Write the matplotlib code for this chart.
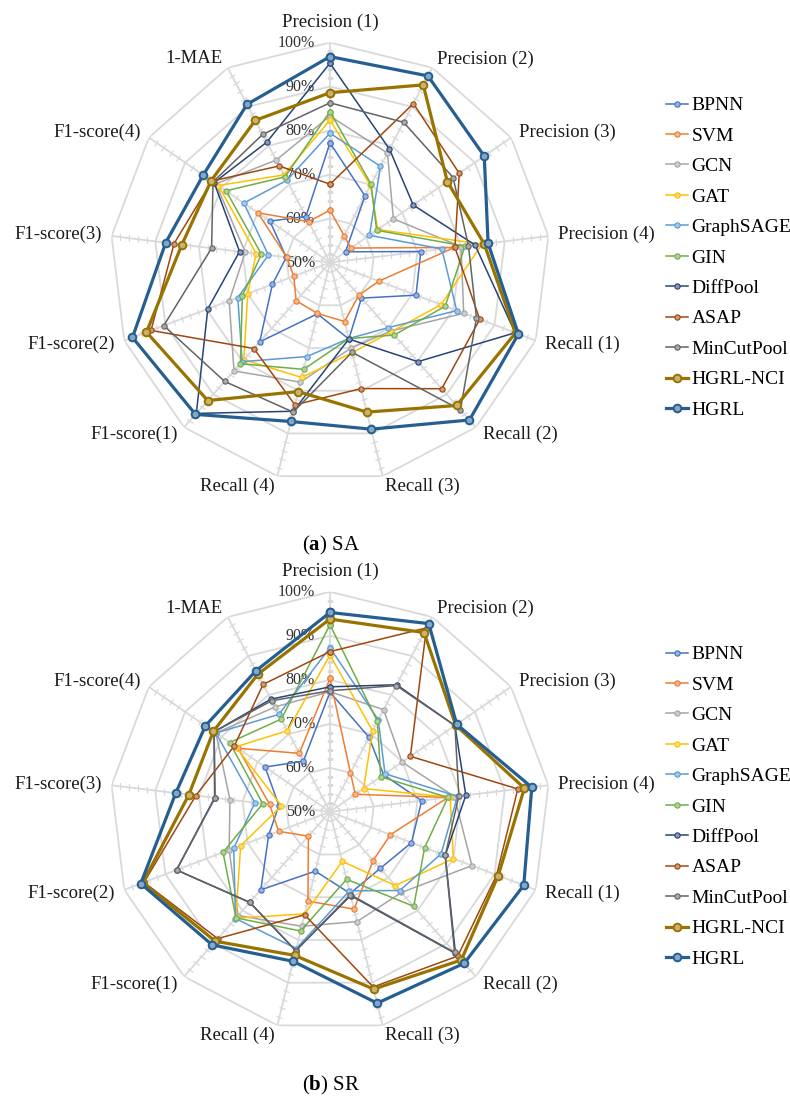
import numpy as np
import matplotlib
matplotlib.use("Agg")
import matplotlib.pyplot as plt
from matplotlib.markers import MarkerStyle
from matplotlib.transforms import Affine2D
from matplotlib.colors import to_rgb

plt.rcParams['font.family'] = ['Liberation Serif', 'DejaVu Serif']
plt.rcParams['mathtext.fontset'] = 'custom'
plt.rcParams['mathtext.rm'] = 'Liberation Serif'
plt.rcParams['mathtext.bf'] = 'Liberation Serif:bold'

metrics = ['Precision (1)', 'Precision (2)', 'Precision (3)', 'Precision (4)',
           'Recall (1)', 'Recall (2)', 'Recall (3)', 'Recall (4)',
           'F1-score(1)', 'F1-score(2)', 'F1-score(3)', 'F1-score(4)', '1-MAE']
models = ['BPNN', 'SVM', 'GCN', 'GAT', 'GraphSAGE', 'GIN', 'DiffPool',
          'ASAP', 'MinCutPool', 'HGRL-NCI', 'HGRL']
colors = ['#4472C4', '#ED7D31', '#A5A5A5', '#FFC000', '#5B9BD5', '#70AD47',
          '#264478', '#9E480E', '#636363', '#997300', '#255E91']
rings = [60, 70, 80, 90, 100]

# (a) SA
sa_bpnn = [77.2, 67.1, 54.3, 70.8, 70.9, 60.8, 67.9, 62.0, 74.1, 64.0, 60.0, 66.6, 61.8]
sa_svm = [61.9, 56.9, 55.8, 78.5, 61.9, 59.9, 63.8, 61.9, 61.6, 58.8, 59.9, 69.9, 60.5]
sa_gcn = [83.3, 78.1, 67.5, 80.0, 82.5, 70.8, 70.0, 78.0, 82.9, 74.5, 69.4, 81.5, 76.3]
sa_gat = [82.4, 69.8, 63.2, 84.8, 77.0, 71.0, 71.1, 76.9, 79.5, 70.0, 66.9, 80.8, 72.5]
sa_sage = [79.4, 74.7, 60.9, 75.6, 80.8, 69.8, 67.8, 72.0, 80.1, 72.4, 64.1, 73.8, 71.1]
sa_gin = [84.3, 70.1, 62.9, 80.9, 78.0, 72.0, 67.8, 75.0, 80.7, 71.3, 65.7, 78.7, 72.0]
sa_diffpool = [95.3, 79.1, 73.0, 83.2, 95.0, 80.1, 67.9, 84.8, 95.8, 79.7, 70.7, 82.0, 80.9]
sa_asap = [67.8, 90.8, 85.7, 78.6, 86.4, 88.3, 79.5, 83.3, 76.1, 93.5, 85.7, 82.6, 74.8]
sa_mincut = [86.3, 86.0, 84.0, 81.7, 85.6, 94.7, 71.0, 85.0, 86.1, 90.4, 77.1, 82.3, 82.9]
sa_hgrl_nci = [88.6, 95.6, 82.4, 85.3, 95.1, 93.4, 85.0, 80.2, 91.9, 94.6, 83.9, 82.8, 86.5]
sa_hgrl = [96.8, 97.9, 92.6, 86.2, 95.8, 97.8, 89.0, 87.2, 96.1, 98.0, 87.6, 85.0, 90.6]

# (b) SR
sr_bpnn = [77.2, 69.1, 64.8, 71.0, 69.8, 67.2, 69.1, 63.9, 73.7, 64.9, 61.7, 67.9, 63.0]
sr_svm = [80.3, 60.0, 57.0, 77.0, 64.7, 64.8, 72.8, 70.9, 57.4, 62.5, 63.8, 75.4, 65.0]
sr_gcn = [77.3, 76.2, 69.9, 78.5, 84.5, 74.5, 75.7, 76.8, 81.5, 74.5, 72.9, 81.5, 76.9]
sr_gat = [85.6, 70.8, 59.3, 77.5, 80.0, 72.4, 61.6, 73.9, 82.3, 71.7, 61.1, 76.0, 70.8]
sr_sage = [87.3, 73.6, 65.2, 79.2, 77.0, 73.9, 68.5, 82.0, 82.4, 73.4, 67.2, 81.5, 75.0]
sr_gin = [92.5, 73.2, 64.0, 77.0, 73.0, 78.7, 65.8, 77.9, 82.2, 76.0, 65.4, 77.7, 73.8]
sr_diffpool = [78.4, 82.6, 84.5, 81.1, 78.0, 93.0, 69.6, 82.5, 77.5, 87.3, 76.4, 82.0, 78.9]
sr_asap = [86.4, 97.2, 72.2, 93.0, 90.5, 93.8, 91.0, 74.1, 88.5, 95.2, 80.7, 76.4, 82.7]
sr_mincut = [77.5, 82.4, 84.5, 79.5, 78.0, 92.7, 69.4, 82.5, 77.5, 87.3, 76.3, 82.0, 78.5]
sr_hgrl_nci = [93.8, 96.0, 84.7, 94.5, 90.9, 95.0, 91.5, 83.6, 89.3, 95.5, 82.3, 82.2, 85.3]
sr_hgrl = [95.3, 98.3, 85.0, 96.2, 97.1, 96.0, 94.8, 85.0, 90.4, 96.0, 85.3, 84.4, 86.2]

sa = [sa_bpnn, sa_svm, sa_gcn, sa_gat, sa_sage, sa_gin, sa_diffpool,
      sa_asap, sa_mincut, sa_hgrl_nci, sa_hgrl]
sr = [sr_bpnn, sr_svm, sr_gcn, sr_gat, sr_sage, sr_gin, sr_diffpool,
      sr_asap, sr_mincut, sr_hgrl_nci, sr_hgrl]

grid_c = '#D9D9D9'
text_c = '#1a1a1a'


def lighten(c, f):
    r, g, b = to_rgb(c)
    return (r + (1 - r) * f, g + (1 - g) * f, b + (1 - b) * f)


def radar(ax, data):
    n = len(metrics)
    ang = np.linspace(0, 2 * np.pi, n, endpoint=False)
    loop = np.append(ang, ang[0])
    ax.set_theta_zero_location('N')
    ax.set_theta_direction(-1)
    ax.set_ylim(50, 100)
    ax.grid(False)
    ax.spines['polar'].set_visible(False)
    ax.set_xticks([])
    ax.set_yticks([])
    ax.patch.set_alpha(0)

    # polygon web
    for v in rings:
        ax.plot(loop, [v] * len(loop), color=grid_c, lw=1.3, zorder=1)
    minor = [v for v in range(52, 100, 2) if v % 10]
    for a, name in zip(ang, metrics):
        ax.plot([a, a], [50, 100], color=grid_c, lw=1.3, zorder=1)
        deg = np.degrees(a)
        tick = MarkerStyle('_', transform=Affine2D().rotate_deg(-deg))
        ax.plot([a] * len(minor), minor, ls='none', marker=tick, ms=5,
                mew=0.9, color=grid_c, zorder=1)
        s, c = np.sin(a), np.cos(a)
        ha = 'left' if s > 0.1 else ('right' if s < -0.1 else 'center')
        if c > 0.95:
            ax.annotate(name, xy=(a, 100), xytext=(0, 12), textcoords='offset pixels',
                        ha='center', va='bottom', fontsize=13.5, color=text_c)
        else:
            ax.annotate(name, xy=(a, 100), xytext=(10 * s, 10 * c),
                        textcoords='offset pixels', ha=ha, va='center',
                        fontsize=13.5, color=text_c)

    for v in [50] + rings:
        ax.annotate(f'{v}%', xy=(0, v), xytext=(-15, 0), textcoords='offset pixels',
                    ha='right', va='center', fontsize=11.5, color='#333333', zorder=2)

    handles = []
    for i, (name, col, vals) in enumerate(zip(models, colors, data)):
        bold = name in ('HGRL-NCI', 'HGRL')
        h, = ax.plot(loop, vals + vals[:1], color=col, lw=2.3 if bold else 1.1,
                     marker='o', ms=5.5 if bold else 3.8,
                     mfc=lighten(col, 0.45), mec=col, mew=1.4 if bold else 0.8,
                     label=name, zorder=3 + i)
        handles.append(h)
    return handles


fig = plt.figure(figsize=(7.9, 11.02), dpi=100)
ax1 = fig.add_axes([0.1392, 0.5621, 0.5570, 0.3993], projection='polar')
ax2 = fig.add_axes([0.1392, 0.0637, 0.5570, 0.3993], projection='polar')

for ax, data, top, cap, cap_y in [(ax1, sa, 0.9122, r'($\mathbf{a}$) SA', 545),
                                  (ax2, sr, 0.4140, r'($\mathbf{b}$) SR', 1085)]:
    hs = radar(ax, data)
    fig.legend(handles=hs, loc='upper left', bbox_to_anchor=(0.843, top),
               frameon=False, fontsize=14, handlelength=1.15, handletextpad=0.16,
               labelspacing=0.66, borderpad=0, borderaxespad=0)
    fig.text(0.419, 1 - cap_y / 1102, cap, ha='center', va='center',
             fontsize=15, color='black')

fig.savefig('out.png', dpi=100)
